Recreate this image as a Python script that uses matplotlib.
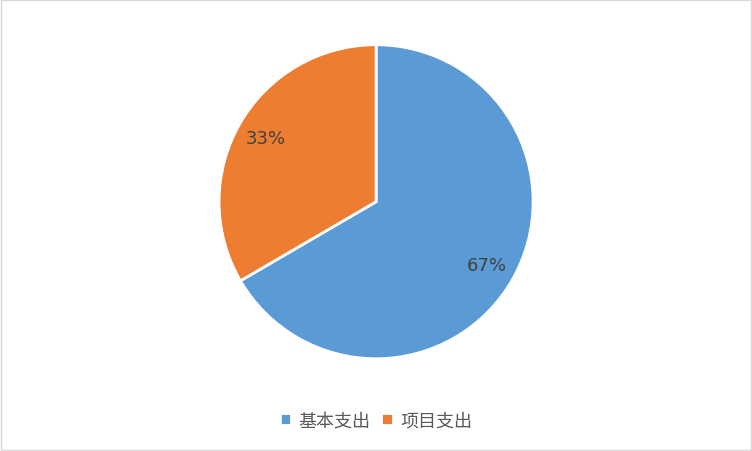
import matplotlib
matplotlib.use("Agg")
import matplotlib.pyplot as plt
from matplotlib.patches import Rectangle

plt.rcParams["font.family"] = ["Noto Sans CJK SC", "DejaVu Sans"]

categories = ["基本支出", "项目支出"]
values = [66.6, 33.4]
colors = ["#5B9BD5", "#ED7D31"]

fig = plt.figure(figsize=(7.52, 4.52), dpi=100)
fig.patches.append(Rectangle((0.0015, 0.0025), 0.997, 0.995, transform=fig.transFigure,
                             fill=False, edgecolor="#D9D9D9", linewidth=1))

ax = fig.add_axes([0.2913, 0.204, 0.4176, 0.695])
wedges, texts, autotexts = ax.pie(
    values,
    colors=colors,
    startangle=90,
    counterclock=False,
    autopct="%1.0f%%",
    pctdistance=0.81,
    wedgeprops={"edgecolor": "white", "linewidth": 2},
    textprops={"fontsize": 13, "color": "#404040", "family": ["DejaVu Sans"]},
)
ax.set_xlim(-1.0, 1.0)
ax.set_ylim(-1.0, 1.0)
ax.set_aspect("equal")
for w in wedges:
    w.set_clip_on(False)

fig.legend(wedges, categories, loc="center", bbox_to_anchor=(0.5, 0.068),
           ncol=2, frameon=False, fontsize=13, handlelength=0.65, handleheight=0.65,
           handletextpad=0.4, columnspacing=0.6, labelcolor="#595959")

fig.savefig("out.png", dpi=100)
